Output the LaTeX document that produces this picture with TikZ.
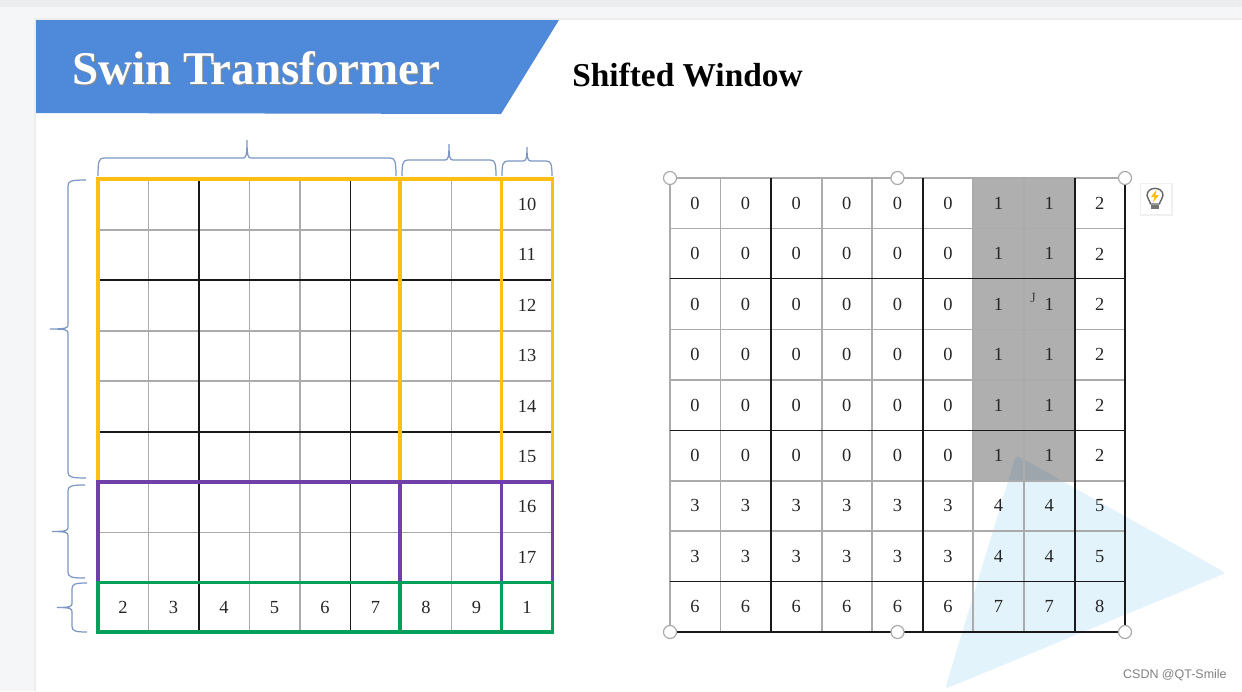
\documentclass[tikz,border=0pt]{standalone}
\usepackage{fontspec}
\setmainfont{Liberation Serif}
\newfontfamily\marksans{Liberation Sans}
\definecolor{pagegrey}{HTML}{F5F6F8}
\definecolor{stripgrey}{HTML}{ECEDEF}
\definecolor{bannerblue}{HTML}{4F89D9}
\definecolor{bracecol}{HTML}{7C97C4}
\definecolor{gridgrey}{HTML}{ABABAB}
\definecolor{cellgrey}{HTML}{B0AFAF}
\definecolor{tipblue}{HTML}{E3F3FC}
\definecolor{winyellow}{HTML}{FFBE12}
\definecolor{winpurple}{HTML}{7040A8}
\definecolor{wingreen}{HTML}{06A05A}
\tikzset{
  thin grid/.style={draw=gridgrey, line width=1.1pt},
  bold grid/.style={draw=black!90, line width=1.1pt},
  brace line/.style={draw=bracecol, line width=0.7pt},
  cell num/.style={inner sep=0pt, font=\fontsize{10.5}{12}\selectfont, text=black!85},
  handle/.style={circle, draw=gridgrey, fill=white, line width=0.7pt, inner sep=0pt, minimum size=0.26cm},
  frame yellow/.style={draw=winyellow, line width=2pt},
  frame purple/.style={draw=winpurple, line width=2pt},
  frame green/.style={draw=wingreen, line width=2pt},
}
% brace above the grid: x left, x right, y tip, y flat, y ends
\newcommand{\bracetop}[5]{
  \draw[brace line] (#1,#5) .. controls (#1,{#4+3}) and ({#1+1},#4) .. ({#1+6},#4)
    -- ({(#1+#2)/2-4},#4) .. controls ({(#1+#2)/2-1},#4) and ({(#1+#2)/2},{#4-2}) .. ({(#1+#2)/2},#3)
    .. controls ({(#1+#2)/2},{#4-2}) and ({(#1+#2)/2+1},#4) .. ({(#1+#2)/2+4},#4)
    -- ({#2-6},#4) .. controls ({#2-1},#4) and (#2,{#4+3}) .. (#2,#5);
}
% brace left of the grid: y top, y bottom, x tip, x flat, x ends
\newcommand{\braceleft}[5]{
  \draw[brace line] (#5,#1) .. controls ({#4+3},#1) and (#4,{#1+1}) .. (#4,{#1+6})
    -- (#4,{(#1+#2)/2-4}) .. controls (#4,{(#1+#2)/2-1}) and ({#4-2},{(#1+#2)/2}) .. (#3,{(#1+#2)/2})
    .. controls ({#4-2},{(#1+#2)/2}) and (#4,{(#1+#2)/2+1}) .. (#4,{(#1+#2)/2+4})
    -- (#4,{#2-6}) .. controls (#4,{#2-1}) and ({#4+3},#2) .. (#5,#2);
}
\begin{document}
\begin{tikzpicture}[x=0.02cm, y=-0.02cm]
\useasboundingbox (0,0) rectangle (1242,691);

% Page behind the slide
\fill[pagegrey] (0,0) rectangle (1242,691);
\fill[stripgrey] (0,0) rectangle (1242,7);
\fill[black!7] (34,18) rectangle (1242,691);
\fill[white] (36,20) rectangle (1242,691);

% Banner
\fill[bannerblue] (36,20) -- (559,20) -- (501,114) -- (36,113) -- cycle;
\node[anchor=base west, inner sep=0pt, font=\fontsize{26.7}{30}\selectfont\bfseries, text=black!45] (titleshade) at (73,85) {Swin Transformer};
\node[anchor=base west, inner sep=0pt, font=\fontsize{26.7}{30}\selectfont\bfseries, text=white] (title) at (72,84) {Swin Transformer};
\node[anchor=base west, inner sep=0pt, font=\fontsize{19}{22}\selectfont\bfseries] (subtitle) at (572,86) {Shifted Window};

% Shaded cells and the faint triangle
\fill[cellgrey] (973,178) rectangle (1075,481);
\fill[tipblue, blend mode=multiply, rounded corners=2pt] (1016,455) -- (1226,573) -- (945,689) -- cycle;

% Left grid lines
\foreach \gx in {148.5,249.5,300,451.5} \draw[thin grid] (\gx,179) -- (\gx,632);
\foreach \gy in {230,331,381,532.5} \draw[thin grid] (98,\gy) -- (552,\gy);
\foreach \gx in {199,350.5} \draw[bold grid] (\gx,179) -- (\gx,632);
\foreach \gy in {280,432} \draw[bold grid] (98,\gy) -- (552,\gy);

% Left grid windows
\draw[frame yellow] (98,179) rectangle (400,482);
\draw[frame yellow] (400,179) rectangle (501.5,482);
\draw[frame yellow] (501.5,179) rectangle (552.5,482);
\draw[frame purple] (98,482) rectangle (400,582.5);
\draw[frame purple] (400,482) rectangle (501.5,582.5);
\draw[frame purple] (501.5,482) rectangle (552.5,582.5);
\draw[frame green] (98,582.5) rectangle (400,632);
\draw[frame green] (400,582.5) rectangle (501.5,632);
\draw[frame green] (501.5,582.5) rectangle (552.5,632);

% Braces
\bracetop{98}{396}{140}{158}{176}
\bracetop{402}{496}{144}{160}{176}
\bracetop{502}{552}{147}{161}{176}
\braceleft{180}{478}{50}{68}{86}
\braceleft{485}{578}{52}{68}{85}
\braceleft{583}{632}{57}{72}{87}

% Left grid numbers
\foreach \v [count=\j from 0] in {10,11,12,13,14,15,16,17}
  \node[cell num] (right\v) at (527,{204.5+50.4*\j}) {\v};
\foreach \v [count=\i from 0] in {2,3,4,5,6,7,8,9,1}
  \node[cell num] (low\i) at ({123+50.5*\i},607.5) {\v};

% Right grid lines
\foreach \gx in {670,720.5,822,872,973,1024} \draw[thin grid] (\gx,178) -- (\gx,632);
\foreach \gy in {178,228.5,329.5,380,481,531} \draw[thin grid] (670,\gy) -- (1125,\gy);
\foreach \gx in {771,923,1075,1125} \draw[bold grid] (\gx,178) -- (\gx,632);
\foreach \gy in {278.5,430.5,581.5,632} \draw[bold grid] (670,\gy) -- (1125,\gy);

% Right grid numbers
\foreach \vals [count=\j from 0] in {
  {0,0,0,0,0,0,1,1,2},{0,0,0,0,0,0,1,1,2},{0,0,0,0,0,0,1,1,2},
  {0,0,0,0,0,0,1,1,2},{0,0,0,0,0,0,1,1,2},{0,0,0,0,0,0,1,1,2},
  {3,3,3,3,3,3,4,4,5},{3,3,3,3,3,3,4,4,5},{6,6,6,6,6,6,7,7,8}}
  \foreach \v [count=\i from 0] in \vals
    \node[cell num] (cell\j-\i) at ({695+50.6*\i},{203.5+50.4*\j}) {\v};
\node[inner sep=0pt, font=\fontsize{8}{9}\selectfont, text=black!75] (cursor) at (1033,298) {J};

% Handles
\node[handle] (h1) at (670,178) {};
\node[handle] (h2) at (897.5,178) {};
\node[handle] (h3) at (1125,178) {};
\node[handle] (h4) at (670,632) {};
\node[handle] (h5) at (897.5,632) {};
\node[handle] (h6) at (1125,632) {};

% Bulb button
\fill[black!6] (1140,183) rectangle (1173,216);
\fill[white] (1141,184) rectangle (1171,214);
\draw[black!60, fill=white, line width=0.8pt] (1150.5,204) .. controls (1150,200) and (1147,199) .. (1147,195.5) .. controls (1147,186) and (1163,186) .. (1163,195.5) .. controls (1163,199) and (1160,200) .. (1159.5,204) -- cycle;
\fill[black!55] (1151,205) rectangle (1159,209);
\fill[winyellow] (1156.5,189.5) -- (1151,197) -- (1154.5,197) -- (1153,202.5) -- (1159,195) -- (1155.5,195) -- cycle;

% Watermark
\node[anchor=base east, inner sep=0pt, font=\marksans\fontsize{7.1}{8}\selectfont, text=black!50] (mark) at (1227,678) {CSDN @QT-Smile};

\end{tikzpicture}
\end{document}
